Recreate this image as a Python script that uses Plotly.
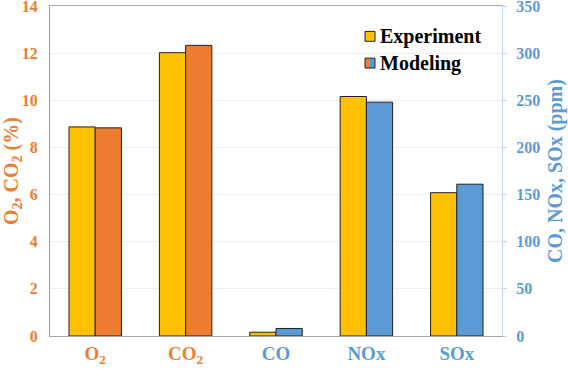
import plotly.graph_objects as go

categories = ["O2", "CO2", "CO", "NOx", "SOx"]
tick_labels = ["O<sub>2</sub>", "CO<sub>2</sub>", "CO", "NOx", "SOx"]
pct_categories = ["O2", "CO2"]
pct_experiment = [8.87, 12.02]
pct_modeling = [8.83, 12.33]
ppm_categories = ["CO", "NOx", "SOx"]
ppm_experiment = [4, 254, 152]
ppm_modeling = [8, 248, 161]

YELLOW = "#FFC000"
ORANGE = "#ED7D31"
BLUE = "#5B9BD5"
FONT = "Liberation Serif"
W = 0.29

ticktext = []
for c, t in zip(categories, tick_labels):
    col = ORANGE if c in pct_categories else BLUE
    ticktext.append(f"<span style='color:{col}'><b>{t}</b></span>")

fig = go.Figure()
line = dict(color="#222222", width=1)
fig.add_trace(go.Bar(x=pct_categories, y=pct_experiment, name="Experiment",
                     marker=dict(color=YELLOW, line=line), width=W, offset=-W, yaxis="y"))
fig.add_trace(go.Bar(x=pct_categories, y=pct_modeling, name="Modeling",
                     marker=dict(color=ORANGE, line=line), width=W, offset=0, yaxis="y"))
fig.add_trace(go.Bar(x=ppm_categories, y=ppm_experiment, name="Experiment",
                     marker=dict(color=YELLOW, line=line), width=W, offset=-W, yaxis="y2"))
fig.add_trace(go.Bar(x=ppm_categories, y=ppm_modeling, name="Modeling",
                     marker=dict(color=BLUE, line=line), width=W, offset=0, yaxis="y2"))

# manual legend
shapes = [
    dict(type="rect", xref="paper", yref="paper", x0=0.697, x1=0.719, y0=0.893, y1=0.923,
         fillcolor=YELLOW, line=dict(color="#222222", width=1)),
    dict(type="rect", xref="paper", yref="paper", x0=0.697, x1=0.708, y0=0.812, y1=0.842,
         fillcolor=ORANGE, line=dict(width=0)),
    dict(type="rect", xref="paper", yref="paper", x0=0.708, x1=0.719, y0=0.812, y1=0.842,
         fillcolor=BLUE, line=dict(width=0)),
    dict(type="rect", xref="paper", yref="paper", x0=0.697, x1=0.719, y0=0.812, y1=0.842,
         fillcolor="rgba(0,0,0,0)", line=dict(color="#222222", width=1)),
]
annotations = [
    dict(xref="paper", yref="paper", x=0.725, y=0.908, text="<b>Experiment</b>", showarrow=False,
         xanchor="left", yanchor="middle", font=dict(family=FONT, size=20, color="black")),
    dict(xref="paper", yref="paper", x=0.725, y=0.827, text="<b>Modeling</b>", showarrow=False,
         xanchor="left", yanchor="middle", font=dict(family=FONT, size=20, color="black")),
]

fig.update_layout(
    width=568, height=369,
    margin=dict(l=50, r=66, t=6, b=33),
    paper_bgcolor="white", plot_bgcolor="white",
    showlegend=False,
    barmode="overlay",
    shapes=shapes, annotations=annotations,
    xaxis=dict(type="category", categoryorder="array", categoryarray=categories,
               tickvals=categories, ticktext=ticktext, automargin=False,
               tickfont=dict(family=FONT, size=19, color=ORANGE),
               showline=True, linecolor="#A6A6A6", linewidth=1, mirror=True,
               showgrid=False, ticks=""),
    yaxis=dict(range=[0, 14], dtick=2, showgrid=True, gridcolor="#EEEEEE",
               showline=True, linecolor="#C9906E", linewidth=1, automargin=False,
               ticklabeloverflow="allow", ticklabelstandoff=8,
               tickfont=dict(family=FONT, size=16, color=ORANGE, weight="bold"),
               title=dict(text="<b>O<sub>2</sub>, CO<sub>2</sub> (%)</b>",
                          font=dict(family=FONT, size=20, color=ORANGE), standoff=0),
               zeroline=False, ticks=""),
    yaxis2=dict(range=[0, 350], dtick=50, overlaying="y", side="right", showgrid=False,
                showline=True, linecolor="#BDD7EE", linewidth=1, automargin=False,
                ticks="outside", ticklen=4, tickcolor="#BDD7EE",
                ticklabeloverflow="allow", ticklabelstandoff=6,
                tickfont=dict(family=FONT, size=16, color=BLUE, weight="bold"),
                title=dict(text="<b>CO, NOx, SOx (ppm)</b>",
                           font=dict(family=FONT, size=20, color=BLUE), standoff=8),
                zeroline=False),
)

fig.write_html("out.html", config={"displayModeBar": False},
               post_script="document.body.style.margin='0';document.body.style.overflow='hidden';")
